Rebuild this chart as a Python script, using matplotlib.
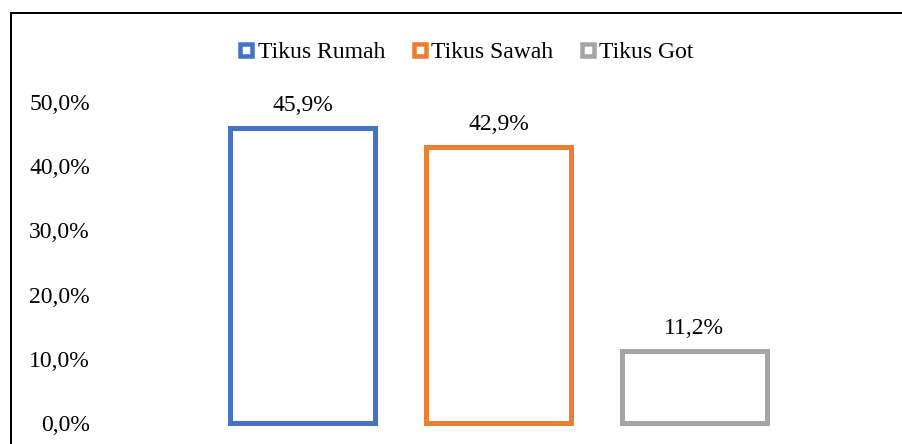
import matplotlib
matplotlib.use("Agg")
import matplotlib.pyplot as plt
from matplotlib.lines import Line2D

plt.rcParams['font.family'] = ['Liberation Serif', 'DejaVu Serif']

series = ["Tikus Rumah", "Tikus Sawah", "Tikus Got"]
values = [0.459, 0.429, 0.112]
labels = ["45,9%", "42,9%", "11,2%"]
colors = ["#4472C4", "#ED7D31", "#A5A5A5"]
yticks = [0.0, 0.1, 0.2, 0.3, 0.4, 0.5]
ytick_labels = ["0,0%", "10,0%", "20,0%", "30,0%", "40,0%", "50,0%"]

W, H = 902, 444
DPI = 100
fig = plt.figure(figsize=(W / DPI, H / DPI), dpi=DPI)

# axes in pixel geometry
ax_left, ax_right, ax_top, ax_bottom = 100, 902, 60, 444
ax = fig.add_axes([ax_left / W, 1 - ax_bottom / H, (ax_right - ax_left) / W, (ax_bottom - ax_top) / H])

zero_px = 423.2
px_per_unit_y = 643.0
x0_px = 302.7
px_per_unit_x = 195.7

ax.set_ylim(-(ax_bottom - zero_px) / px_per_unit_y, (zero_px - ax_top) / px_per_unit_y)
ax.set_xlim((ax_left - x0_px) / px_per_unit_x, (ax_right - x0_px) / px_per_unit_x)

lw_pt = 5.0 * 72 / DPI
xs = list(range(len(values)))
for x, v, c, s in zip(xs, values, colors, series):
    ax.bar(x, v, width=0.741, facecolor="white", edgecolor=c, linewidth=lw_pt, label=s)

for x, v, lab in zip(xs, values, labels):
    ax.annotate(lab, (x, v), xytext=(0, 12.5), textcoords="offset points",
                ha="center", va="baseline", fontsize=17, color="#000000")

ax.set_yticks(yticks)
ax.set_yticklabels(ytick_labels, fontsize=17)
ax.set_xticks([])
ax.tick_params(axis="y", length=0, pad=7.2)
for sp in ax.spines.values():
    sp.set_visible(False)

handles = [Line2D([], [], linestyle="none", marker="s", markersize=12 * 72 / DPI,
                  markerfacecolor="white", markeredgecolor=c,
                  markeredgewidth=4.5 * 72 / DPI) for c in colors]
leg = fig.legend(handles, series, loc="center", ncol=3, frameon=False, fontsize=17,
                 bbox_to_anchor=(466 / W, 1 - 52.5 / H), bbox_transform=fig.transFigure,
                 handlelength=0.68, handletextpad=0.13, columnspacing=1.14,
                 borderpad=0, borderaxespad=0)

# outer chart frame (cropped)
fig.add_artist(Line2D([11.3 / W, 11.3 / W], [0, 1 - 13.3 / H], transform=fig.transFigure,
                      color="black", linewidth=2 * 72 / DPI, solid_capstyle="projecting"))
fig.add_artist(Line2D([11.3 / W, 1], [1 - 13.3 / H, 1 - 13.3 / H], transform=fig.transFigure,
                      color="black", linewidth=2 * 72 / DPI, solid_capstyle="projecting"))

fig.savefig("out.png", dpi=DPI)
